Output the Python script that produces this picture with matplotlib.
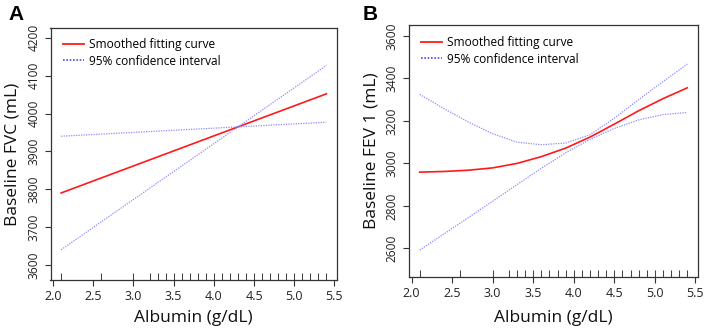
import matplotlib
matplotlib.use("Agg")
import matplotlib.pyplot as plt
from matplotlib.lines import Line2D
import matplotlib.transforms as mtransforms

plt.rcParams['font.family'] = ['Open Sans', 'DejaVu Sans']

# ---------------- data ----------------
albumin_a = [2.1, 5.4]
fvc_fit = [3790, 4052]
fvc_upper = [3940, 3977]
fvc_lower = [3640, 4127]

albumin_b = [2.1, 2.4, 2.7, 3.0, 3.3, 3.6, 3.9, 4.2, 4.5, 4.8, 5.1, 5.4]
fev_fit = [2959, 2962, 2968, 2979, 3000, 3032, 3072, 3124, 3185, 3248, 3305, 3356]
fev_upper = [3325, 3258, 3195, 3140, 3100, 3088, 3096, 3135, 3213, 3300, 3385, 3468]
fev_lower = [2592, 2668, 2745, 2822, 2900, 2977, 3050, 3113, 3165, 3205, 3230, 3240]

rug_x = [2.1, 2.6, 3.0, 3.2, 3.3, 3.4, 3.5, 3.6, 3.7, 3.8, 3.9, 4.0, 4.1, 4.2,
         4.3, 4.4, 4.5, 4.6, 4.7, 4.8, 4.9, 5.0, 5.1, 5.2, 5.3, 5.4]

x_ticks = [2.0, 2.5, 3.0, 3.5, 4.0, 4.5, 5.0, 5.5]
y_ticks_a = [3600, 3700, 3800, 3900, 4000, 4100, 4200]
y_ticks_b = [2600, 2800, 3000, 3200, 3400, 3600]

legend_labels = ["Smoothed fitting curve", "95% confidence interval"]

# ---------------- styling ----------------
W, H = 706, 331
fig = plt.figure(figsize=(W / 100, H / 100), dpi=100)

RED = '#ff1a1a'
BLUE = '#8c8cff'
AX_COL = '#333333'


def px_axes(left, top, right, bottom):
    return fig.add_axes([left / W, (H - bottom) / H, (right - left) / W, (bottom - top) / H])


def style(ax, yticks, ylim, ylabel, box, ylab_x, leg_x, leg_top):
    left, top, right, bottom = box
    ax.set_xlim(1.968, 5.532)
    ax.set_ylim(*ylim)
    ax.set_xticks(x_ticks)
    ax.set_xticklabels([f"{v:.1f}" for v in x_ticks])
    ax.set_yticks(yticks)
    ax.set_yticklabels([str(v) for v in yticks], rotation=90, va='center')
    for s in ax.spines.values():
        s.set_color(AX_COL)
        s.set_linewidth(0.9)
    ax.tick_params(axis='both', direction='out', length=4.3, width=0.8, color=AX_COL,
                   labelcolor='#222222')
    ax.tick_params(axis='x', labelsize=9, pad=3)
    ax.tick_params(axis='y', labelsize=8.6, pad=3)
    ax.set_xlabel("Albumin (g/dL)", fontsize=12.5, color='#111111', va='center')
    ax.xaxis.set_label_coords(0.5, (bottom - 318) / (bottom - top))
    ax.set_ylabel(ylabel, fontsize=12.5, color='#111111', va='center')
    ax.yaxis.set_label_coords((ylab_x - left) / (right - left), 0.5)
    # rug
    trans = mtransforms.blended_transform_factory(ax.transData, ax.transAxes)
    for xv in rug_x:
        ax.plot([xv, xv], [0, 0.026], color='#444444', lw=0.75, transform=trans,
                solid_capstyle='butt', clip_on=False)
    handles = [Line2D([], [], color=RED, lw=1.3),
               Line2D([], [], color='#4a4aff', lw=1.2, ls=(0, (1, 1)))]
    ax.legend(handles, legend_labels, loc='upper left',
              bbox_to_anchor=((leg_x - left) / (right - left),
                              (bottom - leg_top) / (bottom - top)),
              frameon=False, fontsize=8.6, handlelength=1.75, handletextpad=0.45,
              labelspacing=0.3, borderpad=0, borderaxespad=0)


# Panel A
box_a = (50.5, 28, 337, 280)
ax1 = px_axes(*box_a)
ax1.plot(albumin_a, fvc_fit, color=RED, lw=1.2)
ax1.plot(albumin_a, fvc_upper, color=BLUE, lw=0.9, ls=(0, (1, 1)))
ax1.plot(albumin_a, fvc_lower, color=BLUE, lw=0.9, ls=(0, (1, 1)))
style(ax1, y_ticks_a, (3560, 4226), "Baseline FVC (mL)", box_a, 13, 63, 38)

# Panel B
box_b = (409, 25, 698, 277)
ax2 = px_axes(*box_b)
ax2.plot(albumin_b, fev_fit, color=RED, lw=1.2)
ax2.plot(albumin_b, fev_upper, color=BLUE, lw=0.9, ls=(0, (1, 1)))
ax2.plot(albumin_b, fev_lower, color=BLUE, lw=0.9, ls=(0, (1, 1)))
style(ax2, y_ticks_b, (2465, 3652), "Baseline FEV 1 (mL)", box_b, 372, 421, 36)

# panel letters
fig.text(8 / W, 1 - 14 / H, "A", fontsize=15, fontweight='bold', family='Liberation Sans',
         ha='left', va='center')
fig.text(363 / W, 1 - 14 / H, "B", fontsize=15, fontweight='bold', family='Liberation Sans',
         ha='left', va='center')

fig.savefig("out.png", dpi=100)
